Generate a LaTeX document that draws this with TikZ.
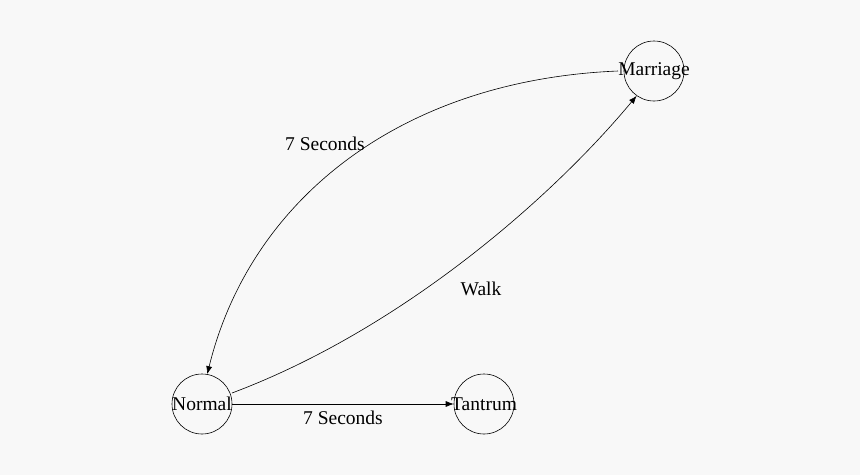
\documentclass[tikz,border=0pt]{standalone}
\usepackage{fontspec}
\setmainfont{Liberation Serif}
\usetikzlibrary{arrows.meta}
\definecolor{bg}{HTML}{F8F8F8}
\begin{document}
\begin{tikzpicture}[x=1pt,y=-1pt,
  state/.style={circle,draw,line width=0.6pt,minimum size=60pt,inner sep=0pt},
  lbl/.style={font=\fontsize{19.5}{22}\selectfont},
  edge/.style={draw,line width=0.6pt,-{Latex[length=8pt,width=6pt]}}]
\fill[bg] (0,0) rectangle (860,475);
\useasboundingbox (0,0) rectangle (860,475);
\node[state] (m) at (654,71) {};
\node[lbl] at (654,71) {Marriage};
\node[state] (n) at (202,404) {};
\node[lbl] at (202,404) {Normal};
\node[state] (t) at (484,404) {};
\node[lbl] at (484,404) {Tantrum};
\coordinate (ms) at (618,71);
\coordinate (ns) at (232,393);
\path[edge] (ms) .. controls (400,80) and (250,200) .. (n.80);
\path[edge] (ns) .. controls (400,330) and (550,200) .. (m.235);
\path[edge] (n.east) -- (t.west);
\node[lbl] at (325,144) {7 Seconds};
\node[lbl] at (481,289) {Walk};
\node[lbl] at (343,418) {7 Seconds};
\end{tikzpicture}
\end{document}
